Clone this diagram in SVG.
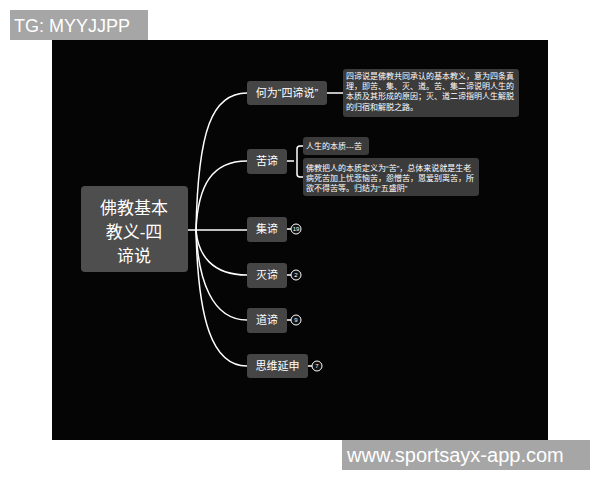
<svg xmlns="http://www.w3.org/2000/svg" width="600" height="480" viewBox="0 0 600 480">
<style>
.t{font-family:"Liberation Sans","Noto Sans CJK SC",sans-serif;fill:#ffffff}
.node{fill:#454545}
.desc{fill:#3b3b3b}
.ln{fill:none;stroke:#ffffff;stroke-width:1.5}
.bd{fill:#111;stroke:#ffffff;stroke-width:1}
.wm{font-family:"Liberation Sans",sans-serif;fill:#ffffff}
</style>
<rect x="0" y="0" width="600" height="480" fill="#ffffff"/>
<rect x="52" y="40" width="496" height="400" fill="#050505"/>
<g id="connectors">
<path class="ln" d="M188 230 H196"/>
<path class="ln" d="M196 230 C198 130 212 93 247 93"/>
<path class="ln" d="M196 230 C198 185 212 161 247 161"/>
<path class="ln" d="M196 230 H247"/>
<path class="ln" d="M196 230 C198 255 212 275 247 275"/>
<path class="ln" d="M196 230 C198 280 212 320 247 320"/>
<path class="ln" d="M196 230 C198 320 212 366 247 366"/>
<path class="ln" d="M327 93 H343"/>
<path class="ln" d="M287 161 H294 M303 146 H300 Q297 146 297 149 V174 Q297 177 300 177 H303"/>
<path class="ln" d="M287 229 H291 M287 275 H291 M287 320 H291 M308 366 H312"/>
</g>
<g id="root">
<rect x="81" y="186" width="107" height="86" rx="4" fill="#4e4e4e"/>
<text class="t" font-size="17" text-anchor="middle"><tspan x="134" y="214">佛教基本</tspan><tspan x="134" y="238">教义-四</tspan><tspan x="134" y="262">谛说</tspan></text>
</g>
<g id="n1">
<rect class="node" x="247" y="81" width="80" height="24" rx="3"/>
<text class="t" font-size="11" x="287" y="97" text-anchor="middle">何为“四谛说”</text>
</g>
<g id="n1desc">
<rect class="desc" x="343" y="69" width="176" height="48" rx="3"/>
<text class="t" font-size="8"><tspan x="346" y="79">四谛说是佛教共同承认的基本教义，意为四条真</tspan><tspan x="346" y="89">理，即苦、集、灭、道。苦、集二谛说明人生的</tspan><tspan x="346" y="99">本质及其形成的原因；灭、道二谛指明人生解脱</tspan><tspan x="346" y="110">的归宿和解脱之路。</tspan></text>
</g>
<g id="n2">
<rect class="node" x="247" y="149" width="40" height="25" rx="3"/>
<text class="t" font-size="11" x="267" y="165" text-anchor="middle">苦谛</text>
</g>
<g id="n2a">
<rect class="desc" x="303" y="137" width="66" height="18" rx="3"/>
<text class="t" font-size="8" x="306" y="149">人生的本质---苦</text>
</g>
<g id="n2b">
<rect class="desc" x="303" y="158" width="176" height="38" rx="3"/>
<text class="t" font-size="8"><tspan x="306" y="171">佛教把人的本质定义为“苦”，总体来说就是生老</tspan><tspan x="306" y="181">病死苦加上忧悲恼苦，怨憎苦，恩爱别离苦，所</tspan><tspan x="306" y="191">欲不得苦等。归结为“五盛阴”</tspan></text>
</g>
<g id="n3">
<rect class="node" x="247" y="217" width="40" height="25" rx="3"/>
<text class="t" font-size="11" x="267" y="233" text-anchor="middle">集谛</text>
<circle class="bd" cx="296" cy="229" r="5"/>
<text class="t" font-size="6" x="296" y="231" text-anchor="middle">19</text>
</g>
<g id="n4">
<rect class="node" x="247" y="263" width="40" height="25" rx="3"/>
<text class="t" font-size="11" x="267" y="279" text-anchor="middle">灭谛</text>
<circle class="bd" cx="296" cy="275" r="5"/>
<text class="t" font-size="6" x="296" y="277" text-anchor="middle">2</text>
</g>
<g id="n5">
<rect class="node" x="247" y="308" width="40" height="25" rx="3"/>
<text class="t" font-size="11" x="267" y="324" text-anchor="middle">道谛</text>
<circle class="bd" cx="296" cy="320" r="5"/>
<text class="t" font-size="6" x="296" y="322" text-anchor="middle">9</text>
</g>
<g id="n6">
<rect class="node" x="247" y="354" width="61" height="24" rx="3"/>
<text class="t" font-size="11" x="277.5" y="370" text-anchor="middle">思维延申</text>
<circle class="bd" cx="317" cy="366" r="5"/>
<text class="t" font-size="6" x="317" y="368" text-anchor="middle">7</text>
</g>
<g id="wm1">
<rect x="10" y="10" width="138" height="30" fill="#a6a6a6"/>
<text class="wm" font-size="18" x="14" y="32">TG: MYYJJPP</text>
</g>
<g id="wm2">
<rect x="342" y="440" width="248" height="30" fill="#a6a6a6"/>
<text class="wm" font-size="20" x="347" y="462">www.sportsayx-app.com</text>
</g>
</svg>
